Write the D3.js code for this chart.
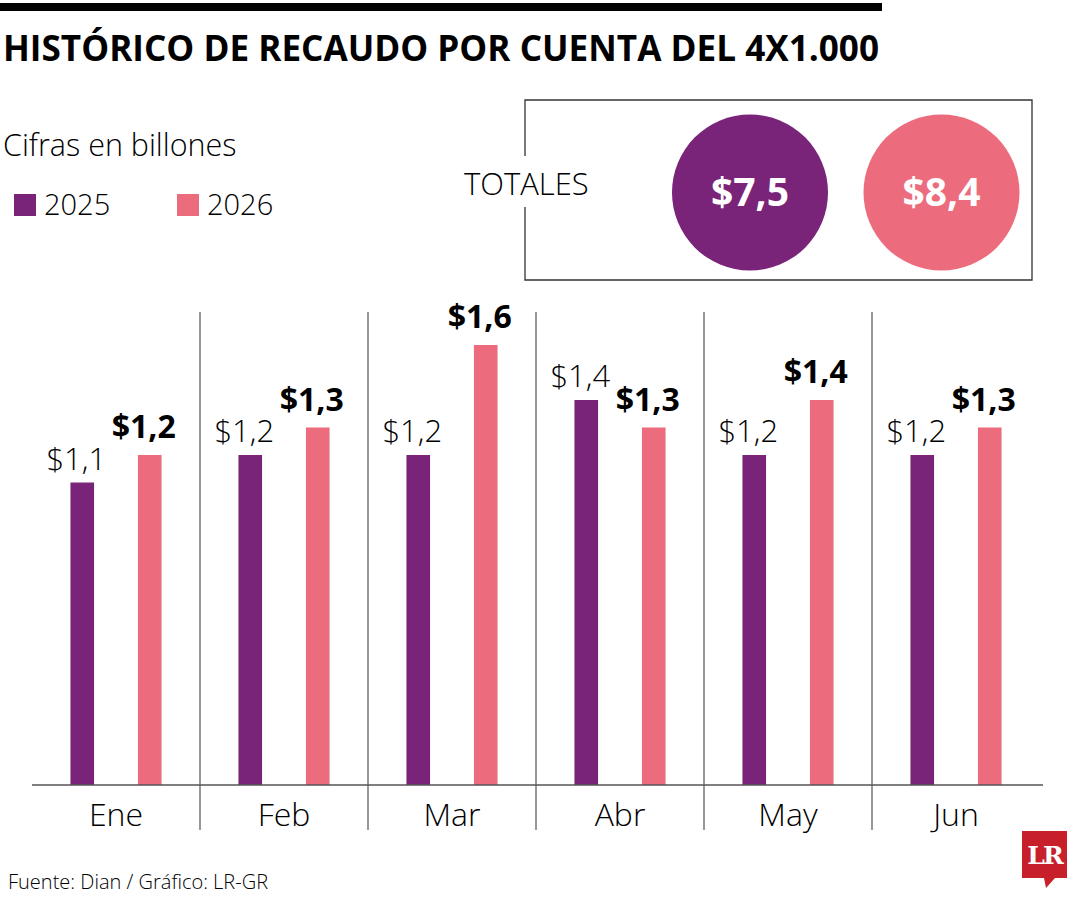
<!DOCTYPE html>
<html>
<head>
<meta charset="utf-8">
<script src="https://cdn.jsdelivr.net/npm/d3@7"></script>
<style>
  body { margin: 0; background: #fff; }
  svg { display: block; font-family: "Open Sans", sans-serif; }
</style>
</head>
<body>
<svg id="chart" width="1080" height="900"></svg>
<script>
//Chart data read from the graphic.
var months = ["Ene", "Feb", "Mar", "Abr", "May", "Jun"];
var years = ["2025", "2026"];
var values2025 = [1.1, 1.2, 1.2, 1.4, 1.2, 1.2];
var values2026 = [1.2, 1.3, 1.6, 1.3, 1.4, 1.3];
var totals = [7.5, 8.4];

var purple = "#7a2479",
    pink = "#ec6c7e";

//Spanish style money format: $1,2
var locale = d3.formatLocale({decimal: ",", thousands: ".", grouping: [3], currency: ["$", ""]});
var money = locale.format("$.1f");

var svg = d3.select("#chart");

//Top rule and title.
svg.append("rect")
    .attr("x", 0).attr("y", 3)
    .attr("width", 882).attr("height", 8)
    .attr("fill", "#000");

svg.append("text")
    .attr("x", 3).attr("y", 61)
    .attr("font-size", 36)
    .attr("font-weight", 700)
    .attr("textLength", 876)
    .attr("lengthAdjust", "spacingAndGlyphs")
    .text("HISTÓRICO DE RECAUDO POR CUENTA DEL 4X1.000");

svg.append("text")
    .attr("x", 3).attr("y", 156)
    .attr("font-size", 30.5)
    .attr("font-weight", 300)
    .text("Cifras en billones");

//Legend.
var legend = svg.selectAll(".legend")
    .data(years)
    .enter()
    .append("g")
    .attr("class", "legend")
    .attr("transform", function (d, i) { return "translate(" + (14 + i * 163) + ",194)"; });

legend.append("rect")
    .attr("width", 22).attr("height", 22)
    .attr("fill", function (d, i) { return i === 0 ? purple : pink; });

legend.append("text")
    .attr("x", 30).attr("y", 21)
    .attr("font-size", 29)
    .attr("font-weight", 300)
    .text(function (d) { return d; });

//Totals box, with a gap in the left border for the label.
var box = d3.path();
box.moveTo(525, 156);
box.lineTo(525, 100);
box.lineTo(1032, 100);
box.lineTo(1032, 280);
box.lineTo(525, 280);
box.lineTo(525, 207);
svg.append("path")
    .attr("d", box.toString())
    .attr("fill", "none")
    .attr("stroke", "#333")
    .attr("stroke-width", 1.3);

svg.append("text")
    .attr("x", 464).attr("y", 195)
    .attr("font-size", 31)
    .attr("font-weight", 300)
    .text("TOTALES");

var totalX = d3.scalePoint().domain(years).range([750, 941.5]);

var circles = svg.selectAll(".total")
    .data(totals)
    .enter()
    .append("g")
    .attr("class", "total")
    .attr("transform", function (d, i) { return "translate(" + totalX(years[i]) + ",192.5)"; });

circles.append("circle")
    .attr("r", 78)
    .attr("fill", function (d, i) { return i === 0 ? purple : pink; });

circles.append("text")
    .attr("y", 13)
    .attr("text-anchor", "middle")
    .attr("font-size", 39)
    .attr("font-weight", 700)
    .attr("fill", "#fff")
    .text(function (d) { return money(d); });

//Bar chart scales.
var x0 = d3.scaleBand().domain(months).range([32, 1040]);
var x1 = d3.scaleBand().domain(years).range([0, x0.bandwidth()]).paddingInner(0.65).paddingOuter(0.57);
var y = d3.scaleLinear().domain([0, 1.6]).range([785, 345]);

var rows = months.map(function (m, i) {
    return {month: m, values: [
        {year: years[0], value: values2025[i]},
        {year: years[1], value: values2026[i]}
    ]};
});

//Separators between months.
svg.selectAll(".sep")
    .data(months.slice(1))
    .enter()
    .append("line")
    .attr("class", "sep")
    .attr("x1", function (d) { return x0(d); })
    .attr("x2", function (d) { return x0(d); })
    .attr("y1", 312).attr("y2", 830)
    .attr("stroke", "#555")
    .attr("stroke-width", 1.2);

var groups = svg.selectAll(".month")
    .data(rows)
    .enter()
    .append("g")
    .attr("class", "month")
    .attr("transform", function (d) { return "translate(" + x0(d.month) + ",0)"; });

groups.selectAll("rect")
    .data(function (d) { return d.values; })
    .enter()
    .append("rect")
    .attr("x", function (d) { return x1(d.year); })
    .attr("y", function (d) { return y(d.value); })
    .attr("width", x1.bandwidth())
    .attr("height", function (d) { return y(0) - y(d.value); })
    .attr("fill", function (d) { return d.year === years[0] ? purple : pink; });

//Value labels: light for 2025, bold for 2026.
groups.selectAll(".val")
    .data(function (d) { return d.values; })
    .enter()
    .append("text")
    .attr("class", "val")
    .attr("x", function (d) { return x1(d.year) + x1.bandwidth() / 2 - 6; })
    .attr("y", function (d) { return y(d.value) - (d.year === years[0] ? 13 : 17); })
    .attr("text-anchor", "middle")
    .attr("font-size", function (d) { return d.year === years[0] ? 31 : 32; })
    .attr("font-weight", function (d) { return d.year === years[0] ? 300 : 700; })
    .text(function (d) { return money(d.value); });

//Baseline and month labels.
svg.append("line")
    .attr("x1", 32).attr("x2", 1043)
    .attr("y1", 785).attr("y2", 785)
    .attr("stroke", "#555")
    .attr("stroke-width", 1.5);

svg.selectAll(".mlabel")
    .data(months)
    .enter()
    .append("text")
    .attr("class", "mlabel")
    .attr("x", function (d) { return x0(d) + x0.bandwidth() / 2; })
    .attr("y", 826)
    .attr("text-anchor", "middle")
    .attr("font-size", 32)
    .attr("font-weight", 300)
    .text(function (d) { return d; });

//Source and logo.
svg.append("text")
    .attr("x", 8).attr("y", 889)
    .attr("font-size", 20)
    .attr("font-weight", 300)
    .text("Fuente: Dian / Gráfico: LR-GR");

var logo = svg.append("g").attr("class", "logo");
logo.append("path")
    .attr("d", "M1022,831H1067V878H1055L1046,888L1044,878H1022Z")
    .attr("fill", "#c8202a");
logo.append("text")
    .attr("x", 1044.5).attr("y", 864)
    .attr("text-anchor", "middle")
    .attr("font-family", "'DejaVu Serif', 'Liberation Serif', serif")
    .attr("font-size", 25)
    .attr("font-weight", 700)
    .attr("letter-spacing", -2)
    .attr("fill", "#fff")
    .text("LR");
</script>
</body>
</html>
